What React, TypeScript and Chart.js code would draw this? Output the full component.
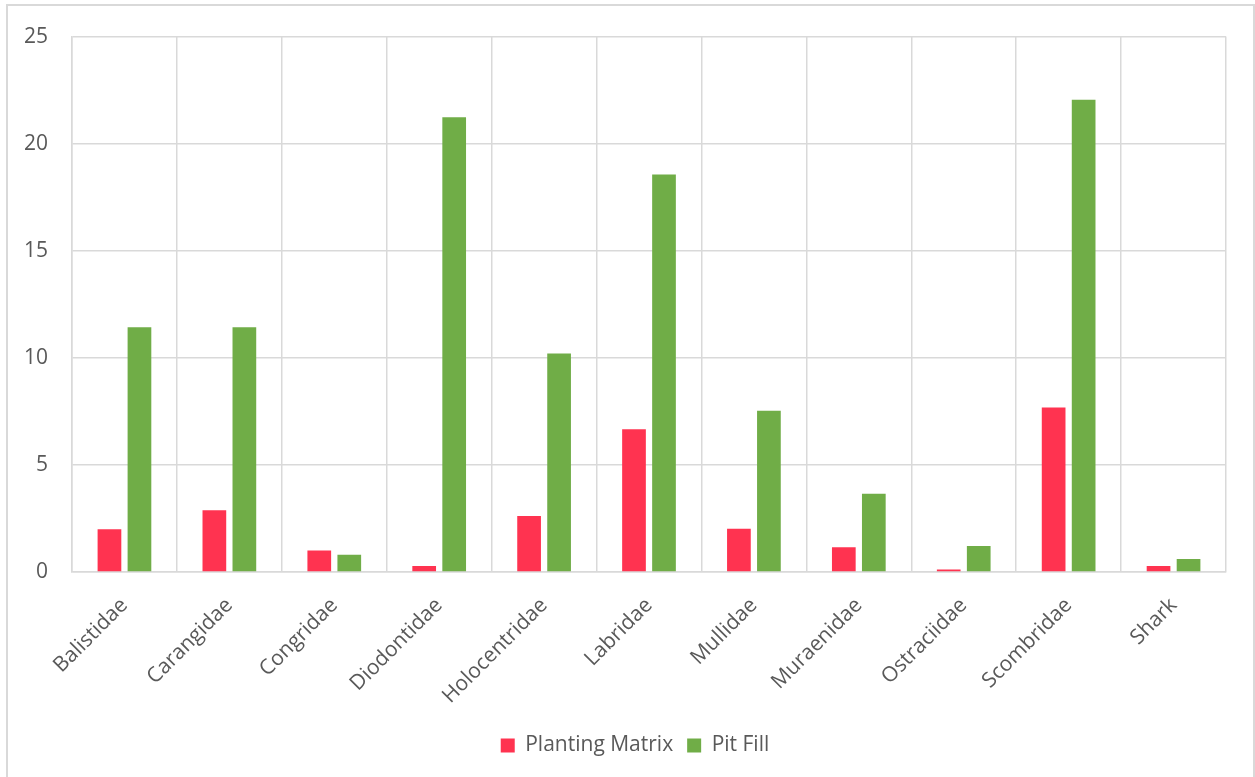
import React, { useEffect, useRef } from "react";
import { Chart, registerables } from "chart.js";

Chart.register(...registerables);

// Fish families recovered per context
const families = [
  "Balistidae",
  "Carangidae",
  "Congridae",
  "Diodontidae",
  "Holocentridae",
  "Labridae",
  "Mullidae",
  "Muraenidae",
  "Ostraciidae",
  "Scombridae",
  "Shark",
];

const plantingMatrix = [2.0, 2.88, 1.0, 0.28, 2.61, 6.66, 2.02, 1.15, 0.12, 7.68, 0.28];
const pitFill = [11.43, 11.43, 0.8, 21.23, 10.2, 18.56, 7.53, 3.65, 1.21, 22.05, 0.61];

const seriesNames = ["Planting Matrix", "Pit Fill"];
const seriesColors = ["#ff3350", "#70ad47"];

const yMin = 0;
const yMax = 25;
const yStep = 5;

const FONT = "'Open Sans', 'Liberation Sans', sans-serif";
const FONT_SIZE = 21;
const TEXT = "#595959";
const GRID = "#d9d9d9";

// Centres the legend under the whole chart box rather than the padded layout area
const legendCenter = {
  id: "legendCenter",
  afterLayout(chart: any) {
    const legend = chart.legend;
    if (!legend) return;
    const shift = 18;
    legend.left += shift;
    legend.right += shift;
  },
};

export default function App() {
  const canvasRef = useRef<HTMLCanvasElement | null>(null);

  useEffect(() => {
    const canvas = canvasRef.current;
    if (!canvas) return;
    const chart = new Chart(canvas, {
      type: "bar",
      data: {
        labels: families,
        datasets: [
          {
            label: seriesNames[0],
            data: plantingMatrix,
            backgroundColor: seriesColors[0],
            categoryPercentage: 0.572,
            barPercentage: 0.79,
          },
          {
            label: seriesNames[1],
            data: pitFill,
            backgroundColor: seriesColors[1],
            categoryPercentage: 0.572,
            barPercentage: 0.79,
          },
        ],
      },
      options: {
        responsive: false,
        animation: false,
        layout: { padding: { left: 8, right: 29, top: 34, bottom: 11 } },
        plugins: {
          tooltip: { enabled: false },
          legend: {
            position: "bottom",
            labels: {
              boxWidth: 14,
              boxHeight: 14,
              padding: 14,
              color: TEXT,
              font: { family: FONT, size: FONT_SIZE },
            },
          },
        },
        scales: {
          x: {
            grid: { color: GRID, lineWidth: 1.5, drawTicks: false, offset: true },
            border: { color: GRID, width: 1.5 },
            ticks: {
              color: TEXT,
              font: { family: FONT, size: FONT_SIZE },
              minRotation: 45,
              maxRotation: 45,
              autoSkip: false,
              padding: 21,
            },
            afterFit: (axis: any) => {
              axis.height = 149;
            },
          },
          y: {
            min: yMin,
            max: yMax,
            grid: { color: GRID, lineWidth: 1.5, drawTicks: false },
            border: { color: GRID, width: 1.5 },
            ticks: {
              stepSize: yStep,
              color: TEXT,
              font: { family: FONT, size: FONT_SIZE },
              padding: 24,
            },
            afterFit: (axis: any) => {
              axis.width = 64;
            },
          },
        },
      },
      plugins: [legendCenter],
    });
    return () => chart.destroy();
  }, []);

  return (
    <>
      <div
        style={{
          position: "fixed",
          left: 6,
          top: 4,
          width: 1249,
          height: 800,
          border: "2px solid #d9d9d9",
          boxSizing: "border-box",
          background: "#ffffff",
        }}
      />
      <canvas
        ref={canvasRef}
        width={1255}
        height={777}
        style={{ position: "fixed", left: 0, top: 0, width: 1255, height: 777 }}
      />
    </>
  );
}
